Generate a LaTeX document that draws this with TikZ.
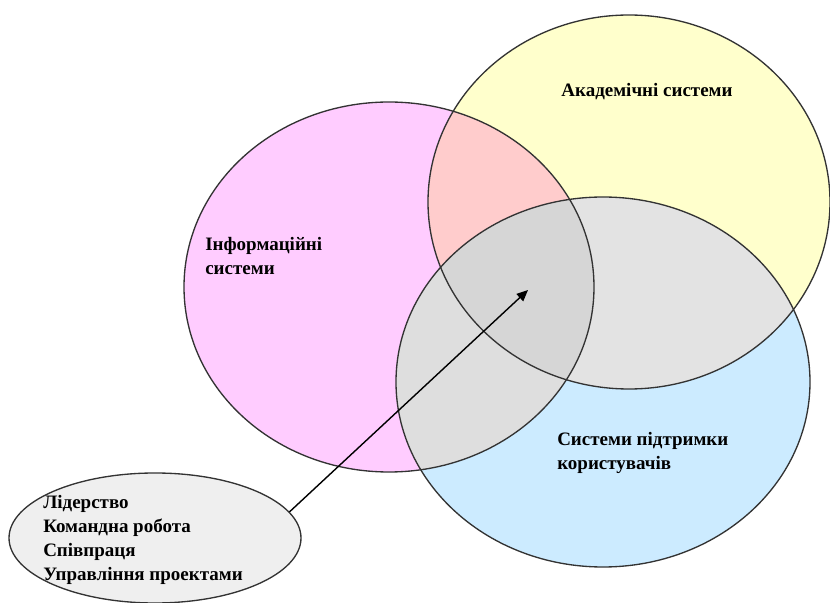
\documentclass[tikz,border=0pt]{standalone}
\usepackage{fontspec}
\setmainfont{Liberation Serif}
\usetikzlibrary{positioning,arrows.meta,shapes.geometric}
\definecolor{infopink}{HTML}{FFCCFF}
\definecolor{acadyellow}{HTML}{FFFFCC}
\definecolor{supportblue}{HTML}{CCEBFF}
\definecolor{pinkyellow}{HTML}{FFCCCC}
\definecolor{pinkblue}{HTML}{DEDEDE}
\definecolor{yellowblue}{HTML}{E3E3E3}
\definecolor{triplegray}{HTML}{D6D6D6}
\definecolor{skillsgray}{HTML}{EFEFEF}
\definecolor{rimgray}{HTML}{333333}

% outlines of the three systems
\def\infopath{(389,287) ellipse [x radius=205, y radius=185]}
\def\acadpath{(629,202) ellipse [x radius=201, y radius=187]}
\def\supportpath{(603,382) ellipse [x radius=207, y radius=185]}

\begin{document}
\begin{tikzpicture}[
    x=0.025cm, y=-0.025cm,
    rim/.style={draw=rimgray, line width=0.95pt},
    label/.style={font=\fontsize{13.5}{16.5}\selectfont\bfseries, align=left, inner sep=0pt}
]
    \useasboundingbox (0,0) rectangle (830,603);

    % Base fills of the three circles
    \fill[infopink] \infopath;
    \fill[acadyellow] \acadpath;
    \fill[supportblue] \supportpath;

    % Overlap of information and academic systems
    \begin{scope}
        \clip \infopath;
        \fill[pinkyellow] \acadpath;
    \end{scope}

    % Overlaps with the support circle
    \begin{scope}
        \clip \supportpath;
        \fill[pinkblue] \infopath;
        \fill[yellowblue] \acadpath;
        \clip \infopath;
        \fill[triplegray] \acadpath;
    \end{scope}

    % Outlines
    \draw[rim] \infopath;
    \draw[rim] \acadpath;
    \draw[rim] \supportpath;

    % Labels of the systems
    \node[label] (acad) at (647,92) {Академічні системи};
    \node[label, anchor=west] (info) at (205,256) {Інформаційні\\системи};
    \node[label, anchor=west] (support) at (557,453) {Системи підтримки\\користувачів};

    % Skills ellipse at bottom left
    \node[ellipse, rim, fill=skillsgray, minimum width=292*0.025cm, minimum height=130*0.025cm, inner sep=0pt] (skills) at (155,538) {};
    \node[label, anchor=west, font=\fontsize{13.5}{17.2}\selectfont\bfseries] (skillslist) at (43,540) {Лідерство\\Командна робота\\Співпраця\\Управління проектами};

    % Arrow into the common core
    \coordinate (core) at (528,290);
    \draw[-{Triangle[length=8pt,width=7pt]}, black, line width=1pt] (skills.11) -- (core);
\end{tikzpicture}
\end{document}
